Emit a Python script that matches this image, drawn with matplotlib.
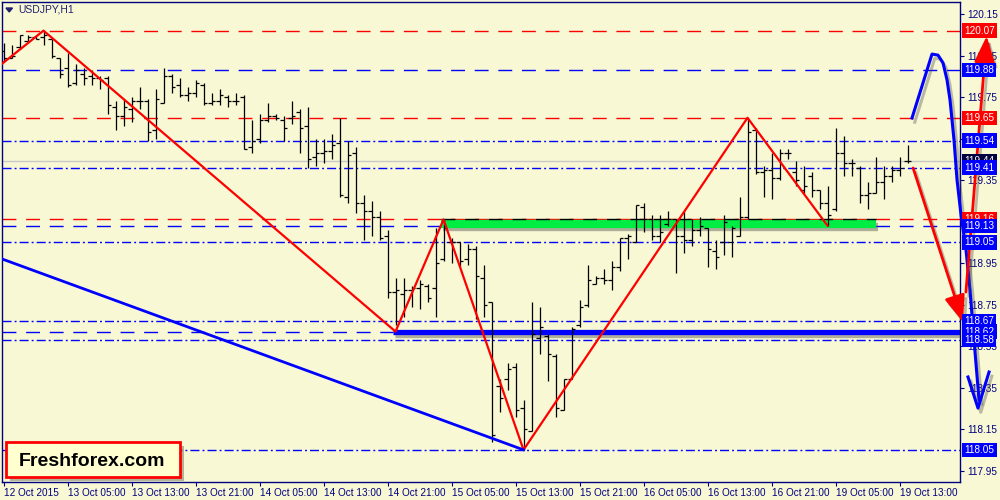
import matplotlib
matplotlib.use("Agg")
import matplotlib.pyplot as plt
import matplotlib.patheffects as pe
import matplotlib.transforms as mtransforms
from matplotlib.patches import FancyBboxPatch, Polygon

plt.rcParams['font.family'] = ['Liberation Sans', 'DejaVu Sans']

BG = "#f8f8d4"
NAVY = "#000080"

# USDJPY H1 bars
opens = [119.97, 119.94, 119.99, 120.02, 120.04, 120.04, 120.03, 119.94, 119.89, 119.82,
         119.86, 119.85, 119.84, 119.84, 119.70, 119.66, 119.69, 119.73, 119.73, 119.59,
         119.72, 119.85, 119.81, 119.76, 119.77, 119.81, 119.72, 119.73, 119.75, 119.73,
         119.75, 119.51, 119.55, 119.64, 119.66, 119.64, 119.65, 119.68, 119.61, 119.46,
         119.48, 119.49, 119.53, 119.27, 119.48, 119.24, 119.20, 119.17, 119.08, 118.81,
         118.80, 118.82, 118.83, 118.84, 118.83, 118.97, 119.05, 119.05, 118.97, 119.02,
         118.88, 118.76, 118.36, 118.39, 118.45, 118.25, 118.14, 118.59, 118.60, 118.50,
         118.24, 118.39, 118.65, 118.75, 118.85, 118.88, 118.87, 118.93, 119.07, 119.05,
         119.22, 119.16, 119.08, 119.14, 119.16, 119.08, 119.06, 119.11, 119.12, 119.01,
         119.05, 119.05, 119.08, 119.17, 119.59, 119.39, 119.40, 119.36, 119.48, 119.39,
         119.30, 119.37, 119.30, 119.24, 119.21, 119.48, 119.43, 119.41, 119.28, 119.29,
         119.34, 119.37, 119.40, 119.44]
highs = [120.01, 120.00, 120.05, 120.05, 120.05, 120.07, 120.03, 119.94, 119.96, 119.91,
         119.89, 119.88, 119.85, 119.85, 119.73, 119.74, 119.75, 119.80, 119.74, 119.79,
         119.89, 119.86, 119.84, 119.80, 119.83, 119.82, 119.77, 119.79, 119.76, 119.77,
         119.76, 119.64, 119.67, 119.72, 119.67, 119.66, 119.73, 119.69, 119.70, 119.55,
         119.55, 119.57, 119.65, 119.54, 119.51, 119.28, 119.25, 119.20, 119.11, 118.88,
         118.88, 118.84, 118.87, 118.85, 119.12, 119.16, 119.07, 119.05, 119.04, 119.03,
         118.94, 118.76, 118.39, 118.47, 118.47, 118.29, 118.76, 118.74, 118.61, 118.51,
         118.39, 118.64, 118.77, 118.94, 118.89, 118.92, 118.96, 119.07, 119.09, 119.23,
         119.24, 119.18, 119.18, 119.20, 119.16, 119.20, 119.16, 119.17, 119.12, 119.06,
         119.18, 119.13, 119.27, 119.65, 119.60, 119.42, 119.48, 119.50, 119.50, 119.44,
         119.42, 119.39, 119.30, 119.32, 119.60, 119.56, 119.45, 119.42, 119.34, 119.46,
         119.42, 119.42, 119.46, 119.52]
lows = [119.92, 119.94, 119.98, 120.02, 120.03, 120.00, 119.94, 119.84, 119.80, 119.81,
        119.81, 119.81, 119.79, 119.67, 119.59, 119.61, 119.63, 119.69, 119.54, 119.55,
        119.72, 119.77, 119.75, 119.73, 119.75, 119.71, 119.71, 119.71, 119.70, 119.71,
        119.50, 119.48, 119.53, 119.63, 119.64, 119.54, 119.62, 119.48, 119.41, 119.42,
        119.43, 119.45, 119.27, 119.24, 119.19, 119.06, 119.08, 119.06, 118.78, 118.65,
        118.69, 118.74, 118.73, 118.76, 118.69, 118.96, 118.95, 118.93, 118.94, 118.68,
        118.69, 118.09, 118.23, 118.34, 118.21, 118.05, 118.14, 118.51, 118.38, 118.21,
        118.24, 118.39, 118.64, 118.74, 118.85, 118.85, 118.82, 118.91, 118.97, 119.05,
        119.10, 119.06, 119.05, 119.13, 118.90, 119.00, 119.03, 119.08, 118.93, 118.92,
        118.99, 118.98, 119.08, 119.16, 119.38, 119.27, 119.26, 119.35, 119.45, 119.32,
        119.29, 119.27, 119.21, 119.13, 119.20, 119.37, 119.37, 119.24, 119.21, 119.29,
        119.26, 119.34, 119.37, 119.43]
closes = [119.94, 119.95, 120.05, 120.04, 120.03, 120.05, 119.95, 119.86, 119.81, 119.88,
          119.84, 119.84, 119.83, 119.71, 119.66, 119.70, 119.73, 119.73, 119.58, 119.74,
          119.85, 119.80, 119.76, 119.77, 119.82, 119.72, 119.73, 119.76, 119.73, 119.73,
          119.50, 119.54, 119.64, 119.66, 119.65, 119.60, 119.66, 119.60, 119.45, 119.48,
          119.49, 119.52, 119.28, 119.47, 119.24, 119.20, 119.17, 119.07, 118.81, 118.82,
          118.82, 118.83, 118.85, 118.78, 118.95, 119.12, 119.05, 118.96, 119.02, 118.89,
          118.75, 118.12, 118.30, 118.44, 118.24, 118.15, 118.61, 118.64, 118.51, 118.25,
          118.39, 118.63, 118.74, 118.87, 118.88, 118.87, 118.93, 119.07, 119.08, 119.23,
          119.16, 119.08, 119.10, 119.16, 119.08, 119.06, 119.11, 119.13, 119.02, 118.98,
          119.15, 119.12, 119.17, 119.58, 119.39, 119.40, 119.36, 119.48, 119.48, 119.35,
          119.32, 119.30, 119.24, 119.18, 119.48, 119.43, 119.43, 119.28, 119.29, 119.34,
          119.37, 119.40, 119.41, 119.44]

time_labels = ["12 Oct 2015", "13 Oct 05:00", "13 Oct 13:00", "13 Oct 21:00",
               "14 Oct 05:00", "14 Oct 13:00", "14 Oct 21:00", "15 Oct 05:00",
               "15 Oct 13:00", "15 Oct 21:00", "16 Oct 05:00", "16 Oct 13:00",
               "16 Oct 21:00", "19 Oct 05:00", "19 Oct 13:00"]
price_ticks = [117.95, 118.15, 118.35, 118.55, 118.75, 118.95,
               119.15, 119.35, 119.55, 119.75, 119.95, 120.15]

# horizontal levels
red_levels = [120.07, 119.65, 119.16]
blue_dash_levels = [119.88, 119.13]
blue_dashdot_levels = [119.54, 119.41, 119.05, 118.67, 118.58, 118.05]
bid = 119.44
support = 118.62
support_from = 48.7
resist_band = 119.14
resist_line = 119.16
resist_from, resist_to = 54.7, 109.1

# drawings
zigzag_x = [-0.2, 5, 49, 55, 65, 93, 103]
zigzag_y = [119.91, 120.07, 118.62, 119.16, 118.05, 119.65, 119.13]
trend_x = [-0.2, 65]
trend_y = [118.97, 118.05]
curve_x = [113.56, 114.81, 116.06, 116.81, 117.44, 117.94, 118.31, 118.81,
           119.19, 119.69, 120.31, 120.81, 121.31, 121.94]
curve_y = [119.649, 119.803, 119.957, 119.952, 119.914, 119.832, 119.736, 119.543,
           119.350, 119.181, 119.013, 118.820, 118.579, 118.290]
curve_head_x = [120.56, 121.81, 123.19]
curve_head_y = [118.401, 118.251, 118.425]
arrow_down = ((113.7, 119.408), (119.94, 118.666))
arrow_up = ((120.3, 118.810), (122.9, 120.044))

# (price, box colour)
price_boxes = [(120.07, "#ff0000"), (119.88, "#0000ff"), (119.65, "#ff0000"),
               (119.54, "#0000ff"), (119.44, "#000040"), (119.41, "#0000ff"),
               (119.16, "#ff0000"), (119.13, "#0000ff"), (119.05, "#0000ff"),
               (118.67, "#0000ff"), (118.62, "#0000ff"), (118.58, "#0000ff"),
               (118.05, "#0000ff")]

fig = plt.figure(figsize=(10, 5), dpi=100, facecolor=BG)
ax = fig.add_axes([0.002, 0.036, 0.958, 0.96])
ax.set_facecolor(BG)
ax.set_xlim(-0.19, 119.56)
ax.set_ylim(117.895, 120.208)

dash = (10, 7)
dashdot = (6.5, 2.2, 1.4, 2.2)
for p in red_levels:
    ax.axhline(p, color="#ff0000", lw=1, dashes=dash, zorder=1)
for p in blue_dash_levels:
    ax.axhline(p, color="#0000ff", lw=1, dashes=dash, zorder=1)
for p in blue_dashdot_levels:
    ax.axhline(p, color="#0000ff", lw=1, dashes=dashdot, zorder=1)
ax.axhline(bid, color="#c8c8c8", lw=1, zorder=1)
ax.plot([-0.19, support_from], [support, support], color="#0000ff", lw=1,
        dashes=dash, zorder=1)

shadow = [pe.SimpleLineShadow(offset=(1.5, -2.5), shadow_color="#555555", alpha=0.45),
          pe.Normal()]
ax.plot([resist_from, resist_to], [resist_band, resist_band], color="#00ee44", lw=6,
        solid_capstyle="butt", path_effects=shadow, zorder=2)
ax.plot([resist_from, resist_to], [resist_line, resist_line], color="black", lw=1,
        dashes=dash, zorder=2.1)
ax.plot([support_from, 119.56], [support, support], color="#0000ff", lw=3.8,
        solid_capstyle="butt", path_effects=shadow, zorder=2)

# bars
idx = list(range(len(opens)))
ax.vlines(idx, lows, highs, color="black", lw=0.9, zorder=3)
ax.hlines(opens, [i - 0.4 for i in idx], idx, color="black", lw=0.9, zorder=3)
ax.hlines(closes, idx, [i + 0.4 for i in idx], color="black", lw=0.9, zorder=3)

ax.plot(zigzag_x, zigzag_y, color="#ff0000", lw=1.6, zorder=4)
ax.plot(trend_x, trend_y, color="#0000ff", lw=2, zorder=4)

curve_fx = [pe.SimpleLineShadow(offset=(2, -3), shadow_color="#444444", alpha=0.35),
            pe.Normal()]
ax.plot(curve_x, curve_y, color="#0000ff", lw=2.2, clip_on=False,
        path_effects=curve_fx, zorder=6, solid_joinstyle="round")
ax.plot(curve_head_x, curve_head_y, color="#0000ff", lw=2.2, clip_on=False,
        path_effects=curve_fx, zorder=6)
for (x0, y0), (x1, y1) in (arrow_down, arrow_up):
    ax.annotate("", xy=(x1, y1), xytext=(x0, y0), annotation_clip=False, zorder=6,
                arrowprops=dict(arrowstyle="-|>,head_length=0.9,head_width=0.35",
                                color="#ff0000", lw=2, mutation_scale=18,
                                shrinkA=0, shrinkB=0,
                                path_effects=curve_fx))

# axes styling
for s in ax.spines.values():
    s.set_color(NAVY)
    s.set_linewidth(1)
ax.set_xticks(list(range(0, 8 * len(time_labels), 8)))
ax.set_xticklabels(time_labels, ha="left")
ax.yaxis.tick_right()
ax.set_yticks(price_ticks)
ax.set_yticklabels([f"{p:.2f}" for p in price_ticks])
ax.tick_params(axis="x", colors=NAVY, labelsize=7.2, length=3, pad=1.5)
ax.tick_params(axis="y", colors=NAVY, labelsize=7.2, length=3, pad=2)
for lab in ax.get_xticklabels():
    lab.set_horizontalalignment("left")

ytrans = mtransforms.blended_transform_factory(ax.transAxes, ax.transData)
for p, c in price_boxes:
    ax.text(1.0045, p, f"{p:.2f}", transform=ytrans, color="white", fontsize=7.2,
            va="center", ha="left", clip_on=False, zorder=7,
            bbox=dict(boxstyle="square,pad=0.22", fc=c, ec="none"))

# title
fig.text(0.018, 0.98, "USDJPY,H1", color="#202070", fontsize=7.5, va="center")
fig.add_artist(Polygon([[0.006, 0.984], [0.0125, 0.984], [0.00925, 0.976]],
                       closed=True, transform=fig.transFigure, color="#202070"))

# logo box
box = FancyBboxPatch((0.006, 0.046), 0.174, 0.07, boxstyle="square,pad=0",
                     transform=fig.transFigure, fc="#ffffd0", ec="#ff0000", lw=2,
                     path_effects=[pe.SimplePatchShadow(offset=(3, -3), alpha=0.4),
                                   pe.Normal()])
fig.add_artist(box)
fig.text(0.092, 0.078, "Freshforex.com", fontsize=14, fontweight="bold",
         color="black", ha="center", va="center")

fig.savefig("out.png", dpi=100, facecolor=BG)
